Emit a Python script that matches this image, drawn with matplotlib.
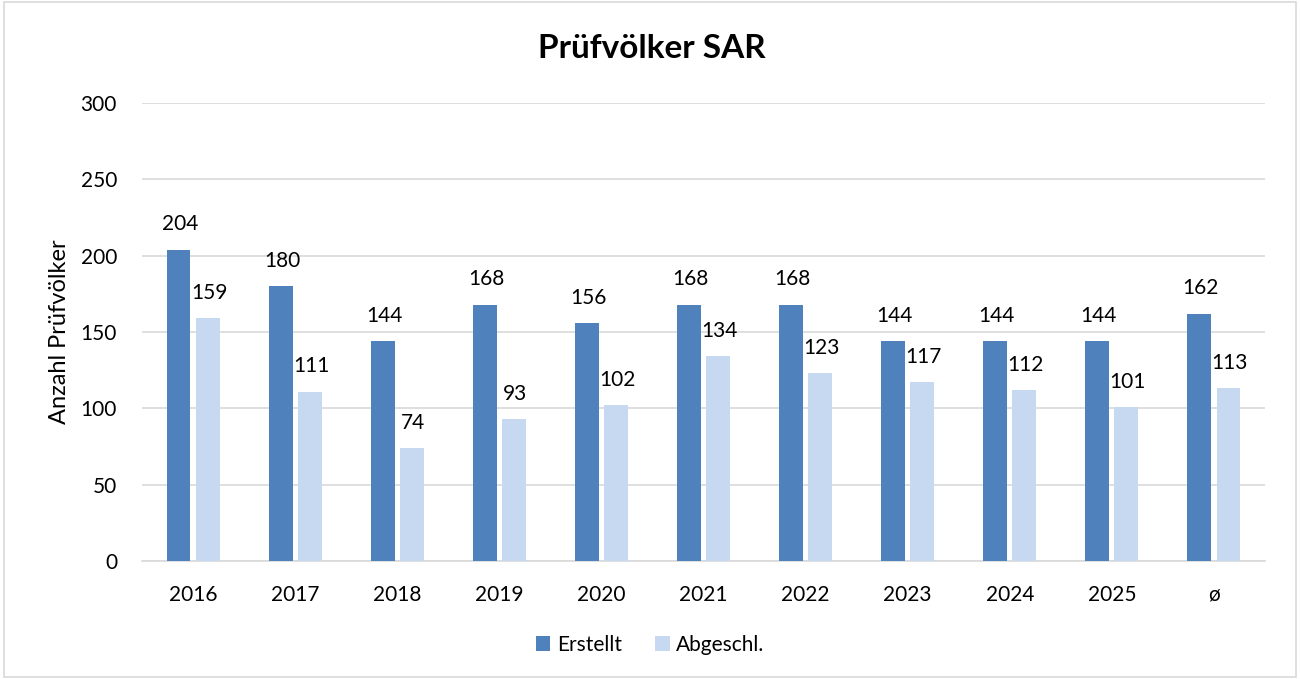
import matplotlib
matplotlib.use("Agg")
import matplotlib.pyplot as plt
import numpy as np
from matplotlib.patches import Rectangle

categories = ["2016", "2017", "2018", "2019", "2020", "2021", "2022", "2023", "2024", "2025", "ø"]
erstellt = [204, 180, 144, 168, 156, 168, 168, 144, 144, 144, 162]
abgeschl = [159, 111, 74, 93, 102, 134, 123, 117, 112, 101, 113]

plt.rcParams['font.family'] = ['Lato', 'DejaVu Sans']

fig = plt.figure(figsize=(13, 6.79), dpi=100)
ax = fig.add_axes([142/1300, 1 - 561/679, (1265-142)/1300, (561-103)/679])

x = np.arange(len(categories))
w = 0.235
gap = 0.05
c1 = "#4F81BD"
c2 = "#C6D9F1"
b1 = ax.bar(x - (w + gap)/2, erstellt, w, color=c1, label="Erstellt", zorder=3)
b2 = ax.bar(x + (w + gap)/2, abgeschl, w, color=c2, label="Abgeschl.", zorder=3)

for xi, v in zip(x - (w + gap)/2, erstellt):
    ax.annotate(str(v), (xi, v), xytext=(1, 11), textcoords="offset points",
                ha="center", va="bottom", fontsize=15, color="black")
for xi, v in zip(x + (w + gap)/2, abgeschl):
    ax.annotate(str(v), (xi, v), xytext=(1, 11), textcoords="offset points",
                ha="center", va="bottom", fontsize=15, color="black")

ax.set_xlim(-0.5, len(categories) - 0.5)
ax.set_ylim(0, 300)
ax.set_yticks(range(0, 301, 50))
ax.set_xticks(x)
ax.set_xticklabels(categories)
ax.tick_params(axis='both', length=0, labelsize=15, colors="black")
ax.tick_params(axis='x', pad=17)
ax.tick_params(axis='y', pad=18)
ax.grid(axis='y', color="#D9D9D9", linewidth=1.2, zorder=0)
for s in ["top", "right", "left"]:
    ax.spines[s].set_visible(False)
ax.spines["bottom"].set_color("#D9D9D9")
ax.spines["bottom"].set_linewidth(1.2)

ax.set_ylabel("Anzahl Prüfvölker", fontsize=17, labelpad=8)

fig.text(652/1300, 1 - 48/679, "Prüfvölker SAR", ha="center", va="center",
         fontsize=24, fontweight="bold")

fig.legend(handles=[b1, b2], loc="center", bbox_to_anchor=(650/1300, 1 - 645/679),
           ncol=2, frameon=False, fontsize=15, handlelength=0.7, handleheight=0.7,
           handletextpad=0.3, columnspacing=1.6)

fig.patches.append(Rectangle((4/1300, 2/679), 1292/1300, 675/679, transform=fig.transFigure,
                             fill=False, edgecolor="#D9D9D9", linewidth=1.2))

fig.savefig("out.png", dpi=100)
